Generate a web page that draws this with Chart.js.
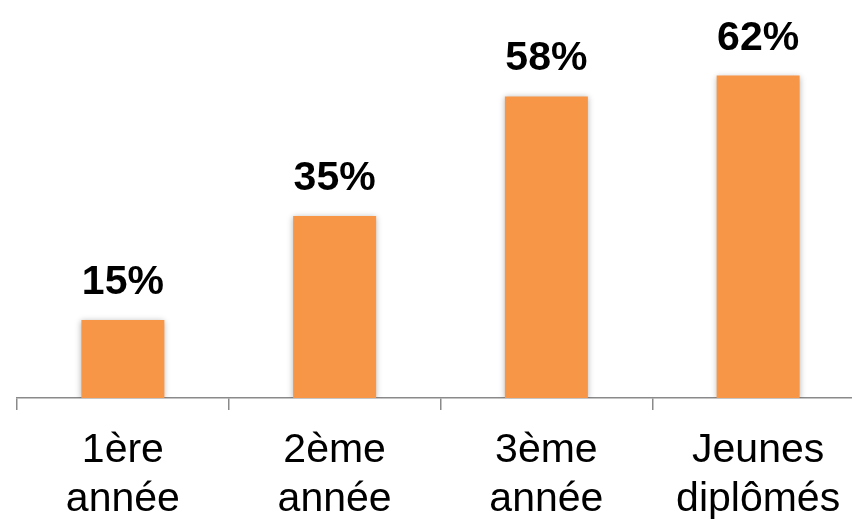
<!DOCTYPE html>
<html>
<head>
<meta charset="utf-8">
<script src="https://cdn.jsdelivr.net/npm/chart.js@4.4.1/dist/chart.umd.min.js"></script>
<style>
  html, body { margin: 0; padding: 0; background: #fff; overflow: hidden; }
  #wrap { position: relative; width: 870px; height: 521px; }
</style>
</head>
<body>
<div id="wrap"><canvas id="barChart"></canvas></div>
<script>
// categories and values
const categories = [['1ère', 'année'], ['2ème', 'année'], ['3ème', 'année'], ['Jeunes', 'diplômés']];
const values = [15, 35, 58, 62];
const valueLabels = ['15%', '35%', '58%', '62%'];

const ctx = document.getElementById('barChart').getContext('2d');

// draws the bold percentage over each bar
const topLabels = {
  id: 'topLabels',
  afterDatasetsDraw(chart) {
    const c = chart.ctx;
    const meta = chart.getDatasetMeta(0);
    c.save();
    c.font = 'bold 41px "Liberation Sans", Arial, sans-serif';
    c.fillStyle = '#000';
    c.textAlign = 'center';
    c.textBaseline = 'alphabetic';
    meta.data.forEach((bar, i) => {
      c.fillText(valueLabels[i], bar.x, bar.y - 26);
    });
    c.restore();
  }
};

// soft shadow round the bars
const barShadow = {
  id: 'barShadow',
  beforeDatasetsDraw(chart) {
    const c = chart.ctx;
    c.save();
    c.shadowColor = 'rgba(0,0,0,0.3)';
    c.shadowBlur = 6;
    c.shadowOffsetX = 0;
    c.shadowOffsetY = 1;
  },
  afterDatasetsDraw(chart) {
    chart.ctx.restore();
  }
};

new Chart(ctx, {
  type: 'bar',
  data: {
    labels: categories,
    datasets: [{
      data: values,
      backgroundColor: '#F79646',
      borderWidth: 0,
      barPercentage: 0.392,
      categoryPercentage: 1
    }]
  },
  options: {
    responsive: true,
    maintainAspectRatio: false,
    animation: false,
    layout: { padding: { left: 17, right: 6, top: 34, bottom: 0 } },
    plugins: {
      legend: { display: false },
      tooltip: { enabled: false }
    },
    scales: {
      y: {
        display: false,
        min: 0,
        max: 70
      },
      x: {
        offset: true,
        grid: {
          offset: true,
          drawOnChartArea: false,
          drawTicks: true,
          tickLength: 12,
          color: '#8a8a8a',
          lineWidth: 1.5
        },
        border: { display: true, color: '#8a8a8a', width: 1.5 },
        ticks: {
          color: '#000',
          padding: 16,
          maxRotation: 0,
          autoSkip: false,
          font: { family: '"Liberation Sans", Arial, sans-serif', size: 41, lineHeight: 1.2 }
        },
        afterFit(scale) { scale.height = 123; }
      }
    }
  },
  plugins: [barShadow, topLabels]
});
</script>
</body>
</html>
